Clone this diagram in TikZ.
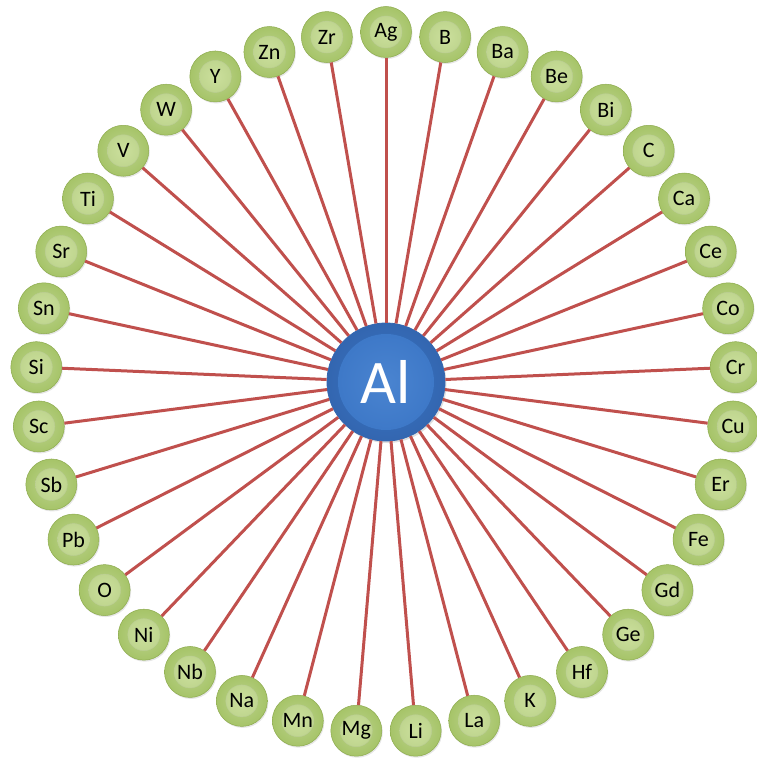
\documentclass[tikz,border=0pt]{standalone}
\usepackage{fontspec}
\setmainfont{Carlito}
\usetikzlibrary{shadows}
\definecolor{spoke}{HTML}{C0504D}
\definecolor{leafdark}{HTML}{8DAB4E}
\definecolor{leafmid}{HTML}{A6C468}
\definecolor{leaflight}{HTML}{C6DC92}
\definecolor{hubdark}{HTML}{3366B0}
\definecolor{hubmid}{HTML}{3B76C6}
\definecolor{hublight}{HTML}{4A84D0}

\tikzset{
  element/.style = {circle, minimum size=51pt, inner sep=0pt, draw=leafdark, line width=0.5pt,
    inner color=leafmid!75!white, outer color=leafmid,
    drop shadow={opacity=0.2, shadow xshift=1pt, shadow yshift=-1.5pt},
    path picture={\shade[inner color=leaflight!90!white, outer color=leafmid!80!white]
      (path picture bounding box.center) circle (16pt);
      \draw[leafdark!60!white, line width=0.4pt] (path picture bounding box.center) circle (16pt);},
    font=\fontsize{22}{22}\selectfont},
  hub/.style = {circle, minimum size=118pt, inner sep=0pt, draw=hubdark, line width=0.8pt,
    inner color=hubmid, outer color=hubdark,
    drop shadow={opacity=0.25, shadow xshift=1.5pt, shadow yshift=-2pt},
    path picture={\shade[inner color=hublight, outer color=hubmid]
      (path picture bounding box.center) circle (48pt);},
    text=white, font=\fontsize{62}{62}\selectfont},
  spokeline/.style = {draw=spoke, line width=3pt}
}

\begin{document}
\begin{tikzpicture}[x=1pt, y=1pt]
\useasboundingbox (-386,-378) rectangle (371,382);

% central element
\node[hub] (al) at (0,0) {Al};

% alloying elements, clockwise from the top
\foreach \el [count=\i from 0] in {Ag,B,Ba,Be,Bi,C,Ca,Ce,Co,Cr,Cu,Er,Fe,Gd,Ge,Hf,K,La,Li,Mg,Mn,Na,Nb,Ni,O,Pb,Sb,Sc,Si,Sn,Sr,Ti,V,W,Y,Zn,Zr}
{
  \node[element] (\el) at ({90-\i*360/37}:350) {\el};
  \draw[spokeline] (al) -- (\el);
}
\end{tikzpicture}
\end{document}
